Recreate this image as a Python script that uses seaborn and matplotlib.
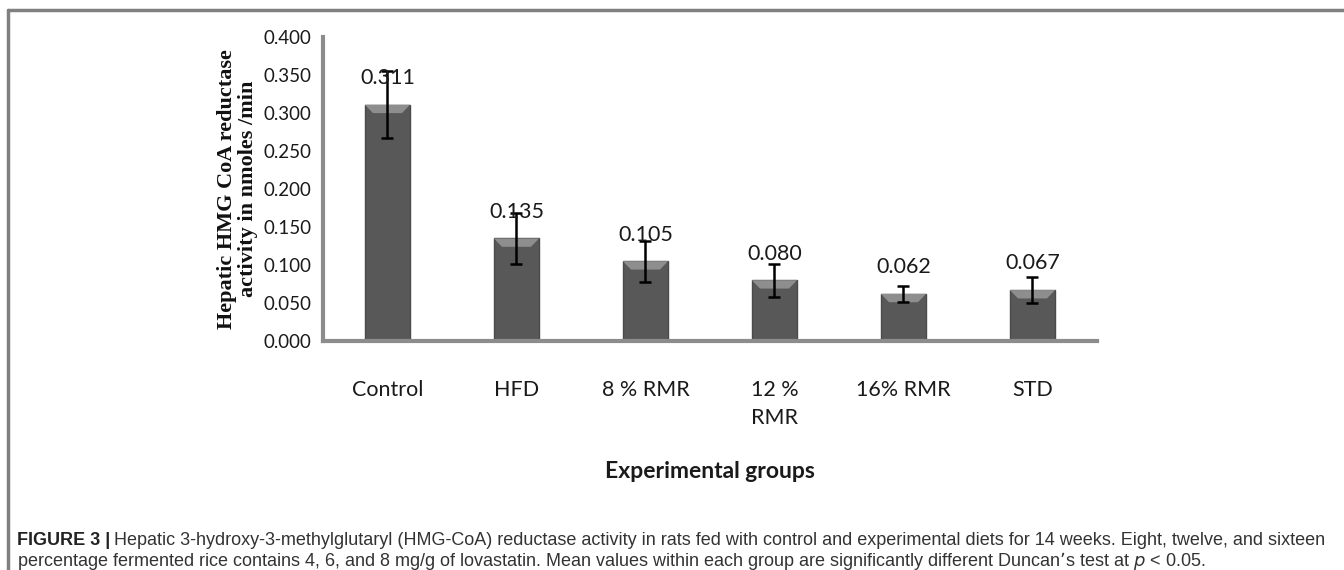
import numpy as np
import pandas as pd
import seaborn as sns
import matplotlib.pyplot as plt
from matplotlib.patches import Polygon
from matplotlib.ticker import FixedLocator

groups = ['Control', 'HFD', '8 % RMR', '12 %\nRMR', '16% RMR', 'STD']
activity = [0.311, 0.135, 0.105, 0.080, 0.062, 0.067]
err = [0.044, 0.033, 0.027, 0.022, 0.011, 0.017]
yticks = [0.0, 0.05, 0.10, 0.15, 0.20, 0.25, 0.30, 0.35, 0.40]

df = pd.DataFrame({'group': groups, 'activity': activity, 'err': err})

sns.set_style('white')
plt.rcParams['font.family'] = ['Lato', 'DejaVu Sans']

fig = plt.figure(figsize=(13.44, 5.70), dpi=100)
ax = fig.add_axes([0.2403, 0.4018, 0.5759, 0.533])

axis_grey = '#8c8c8c'
sns.barplot(data=df, x='group', y='activity', color='#585858', width=0.35,
            edgecolor='#4a4a4a', linewidth=1.0, saturation=1, ax=ax)

# light bevel on top of each bar, like the Excel 3D style
for p in ax.patches:
    x0, w, h = p.get_x(), p.get_width(), p.get_height()
    d = 0.011
    ax.add_patch(Polygon([(x0, h), (x0 + w, h), (x0 + w * 0.82, h - d), (x0 + w * 0.18, h - d)],
                         closed=True, facecolor='#8e8e8e', edgecolor='none', zorder=3))

xs = np.arange(len(groups))
ax.errorbar(xs, df['activity'], yerr=df['err'], fmt='none', ecolor='black',
            elinewidth=1.8, capsize=4.5, capthick=1.8, zorder=5)

for x, v in zip(xs, activity):
    ax.annotate(f'{v:.3f}', (x, v), xytext=(0, 12), textcoords='offset points',
                ha='center', va='bottom', fontsize=15.5, color='#1a1a1a', zorder=6)

ax.set_xlim(-0.5, len(groups) - 0.5)
ax.set_ylim(0, 0.4)
ax.set_yticks(yticks)
ax.set_yticklabels([f'{t:.3f}' for t in yticks])
ax.xaxis.set_minor_locator(FixedLocator(np.arange(-0.5, len(groups), 1.0)))
ax.tick_params(axis='x', which='major', length=0, pad=28, labelsize=15.5, colors='#1a1a1a')
ax.tick_params(axis='x', which='minor', direction='out', length=9, width=2.5, color=axis_grey)
ax.tick_params(axis='y', direction='out', length=6, width=2.5, color=axis_grey,
               labelsize=13.5, labelcolor='#1a1a1a', pad=2)
for lab in ax.get_xticklabels():
    lab.set_linespacing(1.5)

for side in ['top', 'right']:
    ax.spines[side].set_visible(False)
for side in ['left', 'bottom']:
    ax.spines[side].set_color(axis_grey)
    ax.spines[side].set_linewidth(3)

ax.set_xlabel('')
ax.set_ylabel('Hepatic HMG CoA reductase\nactivity in nmoles /min',
              family=['Liberation Serif', 'DejaVu Serif'], fontweight='bold',
              fontsize=16, color='#111111', linespacing=1.05)
ax.yaxis.set_label_coords(-0.084, 0.5)

fig.text(0.528, 0.172, 'Experimental groups', ha='center', va='center',
         fontsize=16.5, fontweight='bold', color='#1a1a1a')

# outer frame of the figure panel
fig.add_artist(plt.Line2D([0.006, 0.006], [0.0, 0.983], color='#808080', lw=2.5))
fig.add_artist(plt.Line2D([0.006, 1.0], [0.983, 0.983], color='#808080', lw=2.5))

cap_font = ['Liberation Sans', 'DejaVu Sans']
fig.text(0.013, 0.052, 'FIGURE 3 |', fontsize=13, fontweight='bold',
         family=cap_font, color='#222222', va='center')
fig.text(0.0845, 0.052,
         'Hepatic 3-hydroxy-3-methylglutaryl (HMG-CoA) reductase activity in rats fed with control and experimental '
         'diets for 14 weeks. Eight, twelve, and sixteen',
         fontsize=13, family=cap_font, color='#333333', va='center')
fig.text(0.013, 0.016,
         'percentage fermented rice contains 4, 6, and 8 mg/g of lovastatin. Mean values within each group are '
         'significantly different Duncan\u2019s test at $p$ < 0.05.',
         fontsize=13, family=cap_font, color='#333333', va='center')

fig.savefig('out.png', dpi=100)
